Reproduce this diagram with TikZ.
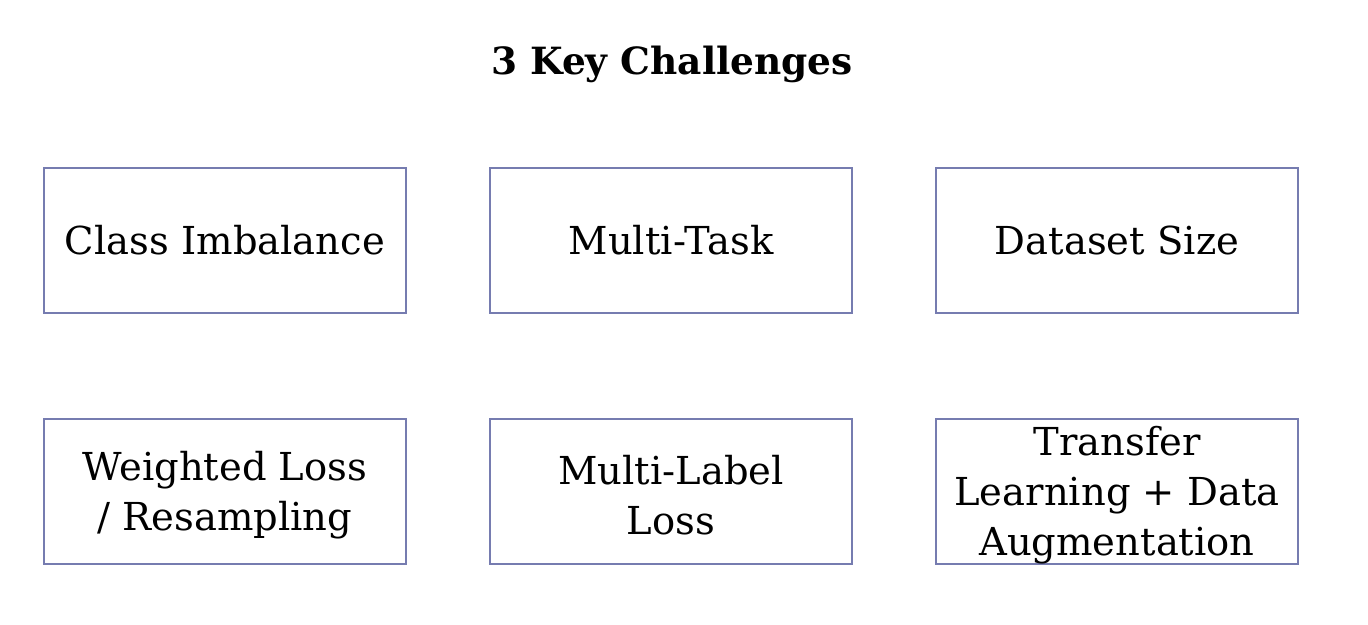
\documentclass[tikz,border=0pt]{standalone}
\usepackage{fontspec}
\setmainfont{DejaVu Serif}
\definecolor{boxline}{RGB}{118,124,176}
\newcommand{\tstrut}{\rule{0pt}{36pt}}
\begin{document}
\begin{tikzpicture}[x=1pt,y=-1pt,
  box/.style={draw=boxline,line width=2.2pt,minimum width=362pt,minimum height=145pt,inner sep=0pt,align=center,font=\fontsize{38.5}{50}\selectfont},
  title/.style={font=\fontsize{37.5}{42}\selectfont\bfseries}]
\useasboundingbox (0,0) rectangle (1368,624);
\fill[white] (0,0) rectangle (1368,624);
\node[title] (t) at (672,64) {3 Key Challenges};
\node[box] (a1) at (225,240.5) {Class Imbalance};
\node[box] (a2) at (671,240.5) {Multi-Task};
\node[box] (a3) at (1117,240.5) {Dataset Size};
\node[box] (b1) at (225,491.5) {\tstrut Weighted Loss\\/ Resampling};
\node[box] (b2) at (671,491.5) {\tstrut Multi-Label\\Loss};
\node[box] (b3) at (1117,491.5) {\tstrut Transfer\\Learning + Data\\Augmentation};
\end{tikzpicture}
\end{document}
